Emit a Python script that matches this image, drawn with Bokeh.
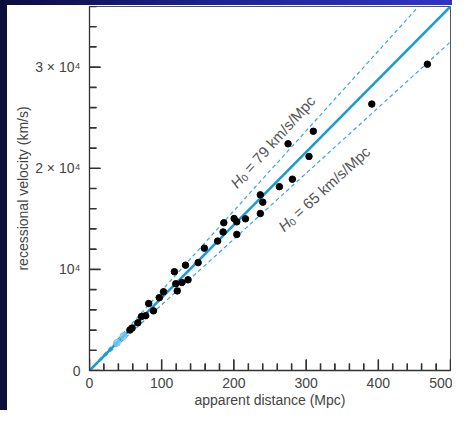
import math
from bokeh.plotting import figure
from bokeh.models import FixedTicker, Range1d, Div
from bokeh.layouts import column, row
from bokeh.core.properties import value
from bokeh.embed import file_html
from bokeh.resources import INLINE

# ---- data ----
distance = [56, 59, 67, 72, 77.7, 88.6, 82, 96.7, 102.5, 121.5, 119.5, 128, 136.5,
            117.6, 133, 150.5, 159, 177.5, 185, 204, 186, 200.3, 204, 216, 236.6,
            240, 236.6, 263, 281, 304, 275, 310, 391, 468]
velocity = [4000, 4200, 4720, 5340, 5420, 5900, 6620, 7200, 7790, 7870, 8580, 8700, 8970,
            9770, 10420, 10670, 12100, 12800, 13700, 13460, 14610, 15030, 14700, 15000, 15520,
            16650, 17370, 18180, 18920, 21170, 22420, 23660, 26350, 30290]
faint_distance = [38, 47]
faint_velocity = [2750, 3400]

H0_fit = 72
H0_upper = 79
H0_lower = 65
H0_labels = ["= 79 km/s/Mpc", "= 65 km/s/Mpc"]

x_max = 500
y_max = 36000
x_ticks = [0, 100, 200, 300, 400, 500]
x_minor = list(range(0, 501, 20))
y_ticks = [0, 10000, 20000, 30000]
y_tick_labels = ["0", "10\u2074", "2 \u00d7 10\u2074", "3 \u00d7 10\u2074"]
y_minor = list(range(0, 36001, 2000))

# annotation anchor points (data units)
label_x = [199, 264.5]
label_y = [18300, 14050]

FONT = "Liberation Sans"
TOTAL_W, TOTAL_H = 452, 410
STRIP_W, BAND_H = 7, 5
W, H = TOTAL_W - STRIP_W, TOTAL_H - BAND_H
BL, BR, BT, BB = 82, 2, 1, 40
FW, FH = W - BL - BR, H - BT - BB
MAJ, MIN = 11, 7
TICK = "#333333"

p = figure(width=W, height=H, output_backend="svg", toolbar_location=None,
           x_range=Range1d(0, x_max), y_range=Range1d(0, y_max),
           min_border_left=BL, min_border_right=BR, min_border_top=BT, min_border_bottom=BB,
           background_fill_color="white", border_fill_color="white")
p.outline_line_color = "#555555"
p.outline_line_width = 1
p.grid.visible = False

for ax in (p.xaxis[0], p.yaxis[0]):
    ax.axis_line_color = TICK
    ax.axis_line_width = 1.3
    ax.major_tick_line_color = TICK
    ax.minor_tick_line_color = TICK
    ax.major_tick_out = 0
    ax.major_tick_in = MAJ
    ax.minor_tick_out = 0
    ax.minor_tick_in = MIN
    ax.major_label_text_font = FONT
    ax.major_label_text_font_size = "14px"
    ax.major_label_text_color = "#444444"
    ax.axis_label_text_font = FONT
    ax.axis_label_text_font_size = "14px"
    ax.axis_label_text_font_style = "normal"
    ax.axis_label_text_color = "#444444"

p.xaxis.ticker = FixedTicker(ticks=x_ticks, minor_ticks=x_minor)
p.yaxis.ticker = FixedTicker(ticks=y_ticks, minor_ticks=y_minor)
p.yaxis.major_label_overrides = {t: l for t, l in zip(y_ticks, y_tick_labels)}
p.xaxis.axis_label = "apparent distance (Mpc)"
p.yaxis.axis_label = "recessional velocity (km/s)"
p.xaxis.major_label_standoff = 7
p.yaxis.major_label_standoff = 9
p.xaxis.axis_label_standoff = 1
p.yaxis.axis_label_standoff = 1

ppx = FW / x_max
ppy = FH / y_max

# inward tick marks drawn from the tick lists, as multi-line glyphs
xminor_only = [t for t in x_minor if t not in x_ticks]
yminor_only = [t for t in y_minor if t not in y_ticks]
tick_xs, tick_ys = [], []
for t in x_ticks:
    tick_xs.append([t, t]); tick_ys.append([0, MAJ / ppy])
for t in xminor_only:
    tick_xs.append([t, t]); tick_ys.append([0, MIN / ppy])
for t in y_ticks:
    tick_xs.append([0, MAJ / ppx]); tick_ys.append([t, t])
for t in yminor_only:
    tick_xs.append([0, MIN / ppx]); tick_ys.append([t, t])
p.multi_line(xs=tick_xs, ys=tick_ys, line_color=TICK, line_width=1.6)

LINE = "#1a9ad6"
DASH = "#3aa6dd"

def end_x(h):
    return min(x_max, y_max / h)

for h in (H0_upper, H0_lower):
    xe = end_x(h)
    p.line([0, xe], [0, h * xe], line_color=DASH, line_width=1.2, line_dash="4 3")
xe = end_x(H0_fit)
p.line([0, xe], [0, H0_fit * xe], line_color=LINE, line_width=2.6)

p.scatter(faint_distance, faint_velocity, size=7, color="#7cc6ec", alpha=0.8)
p.scatter(distance, velocity, size=6.5, color="black")

for h, lab, lx, ly in zip((H0_upper, H0_lower), H0_labels, label_x, label_y):
    a = math.atan(h * ppy / ppx)
    p.text(x=[lx], y=[ly], text=["H"], angle=a, text_font=value(FONT), text_font_size="15px",
           text_font_style="italic", text_color="#555555", text_align="left", text_baseline="alphabetic")
    w = 10.5
    p.text(x=[lx], y=[ly], text=["0"], angle=a, text_font=value(FONT), text_font_size="10px",
           text_color="#555555", text_align="left", text_baseline="alphabetic",
           x_offset=w * math.cos(a) + 3 * math.sin(a), y_offset=-w * math.sin(a) + 3 * math.cos(a))
    w2 = 20
    p.text(x=[lx], y=[ly], text=[lab], angle=a, text_font=value(FONT), text_font_size="15px",
           text_color="#555555", text_align="left", text_baseline="alphabetic",
           x_offset=w2 * math.cos(a), y_offset=-w2 * math.sin(a))

# slide frame: dark navy left strip and blue top band
band = Div(text="", width=TOTAL_W, height=BAND_H, margin=0,
           styles={"background": "linear-gradient(to right, #0b0d40, #1c2290 45%, #3034c8)"})
strip = Div(text="", width=STRIP_W, height=H, margin=0,
            styles={"background": "#0b0d3a"})
layout = column(band, row(strip, p, spacing=0), spacing=0)

open("out.html", "w").write(file_html(layout, INLINE))
